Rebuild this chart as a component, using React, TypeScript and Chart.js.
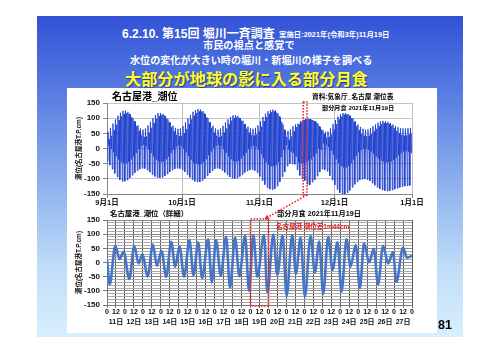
import React, { useEffect, useRef } from "react";
import { Chart, registerables } from "chart.js";

Chart.register(...registerables);

const FONT = '"Liberation Sans", "Noto Sans CJK JP", sans-serif';

// ---------- Overview chart (Sep 1 – Dec 31, 2021), daily tide extremes in cm ----------
const higherHigh = [
  55, 68, 82, 96, 108, 118, 124, 125, 121, 112, 100, 88, 76, 66, 62,
  66, 76, 88, 100, 110, 116, 117, 114, 106, 96, 85, 75, 68, 65, 66,
  74, 86, 99, 111, 121, 127, 130, 129, 123, 113, 100, 87, 75, 66, 62,
  66, 75, 86, 96, 104, 109, 110, 107, 100, 91, 81, 72, 67, 65, 68,
  76, 90, 104, 115, 123, 127, 128, 125, 116, 102, 80, 60, 58, 63, 73,
  79, 82, 90, 95, 98, 99, 97, 94, 90, 82, 70, 60, 55, 56,
  66, 80, 94, 105, 113, 117, 117, 114, 108, 99, 89, 79, 71, 65, 62,
  63, 67, 73, 79, 85, 89, 91, 90, 88, 84, 79, 74, 70, 67, 66, 66, 67, 68,
];
const lowerHigh = [
  30, 42, 60, 78, 94, 106, 114, 117, 114, 104, 90, 74, 58, 44, 38,
  40, 52, 68, 84, 98, 106, 110, 108, 99, 86, 70, 56, 45, 40, 42,
  50, 64, 80, 96, 108, 117, 122, 122, 115, 103, 86, 68, 52, 42, 38,
  42, 52, 66, 80, 92, 100, 103, 100, 92, 80, 65, 52, 44, 42, 46,
  56, 72, 90, 104, 114, 120, 122, 118, 106, 88, 62, 38, 29, 40, 56,
  71, 79, 88, 94, 97, 97, 95, 90, 86, 74, 62, 48, 36, 38,
  46, 62, 80, 95, 105, 111, 112, 108, 100, 88, 74, 60, 48, 42, 40,
  42, 48, 56, 65, 73, 80, 84, 84, 81, 75, 67, 58, 50, 45, 42, 43, 46, 50,
];
const lowerLow = [
  -42, -55, -68, -82, -94, -103, -108, -108, -104, -97, -88, -80, -73, -68, -65,
  -66, -71, -78, -86, -92, -96, -97, -95, -90, -84, -77, -71, -67, -65, -66,
  -70, -77, -86, -95, -103, -108, -110, -110, -106, -99, -90, -81, -73, -67, -65,
  -67, -72, -79, -87, -94, -98, -99, -97, -92, -86, -79, -74, -71, -70, -73,
  -80, -92, -106, -119, -129, -134, -136, -133, -124, -110, -93, -77, -58, -50, -50,
  -52, -70, -89, -100, -106, -118, -120, -111, -103, -91, -77, -68, -70, -75,
  -90, -104, -120, -135, -146, -150, -150, -146, -138, -128, -118, -110, -104, -101, -100,
  -102, -107, -114, -121, -128, -133, -137, -139, -140, -139, -137, -134, -131, -128, -126, -124, -123, -122,
];
const higherLow = [
  10, 0, -12, -25, -36, -44, -48, -48, -44, -36, -26, -14, -2, 8, 12,
  8, -2, -14, -26, -36, -42, -44, -42, -35, -26, -14, -3, 6, 10, 8,
  0, -12, -25, -37, -46, -50, -52, -50, -44, -34, -22, -10, 2, 10, 12,
  8, -2, -14, -26, -35, -41, -43, -40, -33, -24, -13, -2, 6, 10, 6,
  -4, -18, -32, -45, -54, -58, -58, -54, -44, -28, -5, 12, -3, -11, -15,
  -26, -46, -48, -50, -44, -40, -35, -26, -15, 0, -3, 17, 12, 5,
  -6, -20, -35, -48, -57, -62, -62, -58, -48, -36, -24, -12, -4, 0, 0,
  -4, -10, -18, -26, -33, -39, -43, -45, -45, -42, -37, -30, -22, -15, -10, -8, -10, -14,
];
const monthTicks = [0, 30, 61, 91, 122];
const monthLabels = ["9月1日", "10月1日", "11月1日", "12月1日", "1月1日"];
const overviewHighlight = [78.5, 80];

// ---------- Detail chart (Nov 11 0h – Nov 28 0h), hours from Nov 11 0:00 ----------
const detailHours = [
  0, 3.6, 11.1, 16.9, 22.2, 29.8, 36.5, 42.3, 47.6, 54.3, 61.4, 66.7, 73.0,
  79.2, 85.9, 91.2, 97.0, 103.2, 110.3, 115.7, 121.9, 127.3, 135.3, 140.2, 145.9,
  152.2, 159.3, 164.6, 171.3, 177.1, 184.7, 190.0, 195.8, 201.1, 210.0, 214.5, 222.5,
  227.8, 234.9, 240.3, 247.8, 252.7, 259.0, 264.7, 272.3, 278.1, 283.9, 289.2, 295.9,
  301.7, 308.4, 313.7, 320.4, 325.7, 332.8, 338.2, 343.9, 350.6, 356.9, 362.6, 369.3,
  376.0, 382.6, 387.1, 396.0, 401.3, 408,
];
const detailLevels = [
  9, -77, 59, 12, 38, -58, 58, -3, 29, -50, 63, -11, 40,
  -50, 73, -15, 56, -50, 79, -45, 71, -55, 82, -70, 79,
  -46, 91, -89, 88, -48, 94, -100, 97, -50, 97, -106, 99,
  -44, 95, -118, 97, -40, 88, -120, 94, -35, 74, -111, 91,
  -26, 71, -103, 82, -15, 62, -91, 68, 0, 48, -77, 59,
  -3, 36, -68, 53, 17, 23,
];
const hourLabels = ["0", "12"];
const detailDays = [
  "11日", "12日", "13日", "14日", "15日", "16日", "17日", "18日", "19日",
  "20日", "21日", "22日", "23日", "24日", "25日", "26日", "27日",
];
const detailHighlight = [192, 216];

const yMin = -150;
const yMax = 150;

const highlightPlugin: any = {
  id: "highlight",
  afterDatasetsDraw(chart: any, _args: any, opts: any) {
    if (!opts || !opts.range) return;
    const { ctx, chartArea, scales } = chart;
    const x1 = scales.x.getPixelForValue(opts.range[0]);
    const x2 = scales.x.getPixelForValue(opts.range[1]);
    ctx.save();
    ctx.strokeStyle = "#e3262b";
    ctx.lineWidth = 1.6;
    ctx.setLineDash([1.6, 1.4]);
    ctx.strokeRect(x1, chartArea.top - 1, x2 - x1, chartArea.bottom - chartArea.top + 2);
    ctx.restore();
  },
};

const tickFont = { family: FONT, size: 8, weight: "bold" as const };
const axisTitle = (size: number) => ({
  display: true,
  text: "潮位(名古屋港T.P.cm)",
  color: "#111",
  font: { family: FONT, size, weight: "bold" as const },
  padding: { top: 8, bottom: 0 },
});

function Txt(props: { x: number; cy: number; size: number; color?: string; weight?: string; text: string; shadow?: string }) {
  const { x, cy, size, color = "#000", weight = "bold", text, shadow } = props;
  return (
    <div
      style={{
        position: "absolute",
        left: x,
        top: cy - size / 2,
        fontSize: size,
        lineHeight: 1,
        height: size,
        fontFamily: FONT,
        fontWeight: weight as any,
        color,
        whiteSpace: "nowrap",
        textShadow: shadow,
      }}
    >
      {text}
    </div>
  );
}

export default function App() {
  const rootRef = useRef<HTMLDivElement>(null);
  const topRef = useRef<HTMLCanvasElement>(null);
  const botRef = useRef<HTMLCanvasElement>(null);
  const overlayRef = useRef<HTMLCanvasElement>(null);

  useEffect(() => {
    const overviewPoints: { x: number; y: number }[] = [];
    for (let d = 0; d < higherHigh.length; d++) {
      overviewPoints.push({ x: d + 0.12, y: lowerLow[d] });
      overviewPoints.push({ x: d + 0.38, y: higherHigh[d] });
      overviewPoints.push({ x: d + 0.62, y: higherLow[d] });
      overviewPoints.push({ x: d + 0.88, y: lowerHigh[d] });
    }
    const detailPoints = detailHours.map((h, i) => ({ x: h, y: detailLevels[i] }));

    const topChart = new Chart(topRef.current as HTMLCanvasElement, {
      type: "line",
      data: {
        datasets: [
          {
            data: overviewPoints,
            borderColor: "#2142cf",
            borderWidth: 0.9,
            pointRadius: 0,
            fill: false,
            tension: 0,
          },
        ],
      },
      options: {
        responsive: false,
        animation: false,
        events: [],
        layout: { padding: { top: 15, right: 25, left: 0, bottom: 0 } },
        plugins: {
          legend: { display: false },
          tooltip: { enabled: false },
          highlight: { range: overviewHighlight },
        } as any,
        scales: {
          x: {
            type: "linear",
            min: monthTicks[0],
            max: monthTicks[monthTicks.length - 1],
            afterFit: (s: any) => {
              s.height = 16;
            },
            afterBuildTicks: (s: any) => {
              s.ticks = monthTicks.map((v) => ({ value: v }));
            },
            ticks: {
              autoSkip: false,
              maxRotation: 0,
              padding: 0.5,
              color: "#111",
              font: { family: FONT, size: 7.5, weight: "bold" },
              callback: (v: any) => monthLabels[monthTicks.indexOf(Number(v))] ?? "",
            },
            grid: { color: "#bdbdbd", tickLength: 4, tickColor: "#888" },
            border: { color: "#888" },
          },
          y: {
            min: yMin,
            max: yMax,
            afterFit: (s: any) => {
              s.width = 40;
            },
            ticks: { stepSize: 50, autoSkip: false, padding: 3, color: "#111", font: tickFont },
            grid: { color: "#c4c4c4", tickLength: 4, tickColor: "#888" },
            border: { color: "#888" },
            title: axisTitle(6.5) as any,
          },
        },
      } as any,
      plugins: [highlightPlugin],
    });

    const botChart = new Chart(botRef.current as HTMLCanvasElement, {
      type: "line",
      data: {
        datasets: [
          {
            data: detailPoints,
            borderColor: "#4674c6",
            borderWidth: 2.6,
            pointRadius: 0,
            fill: false,
            cubicInterpolationMode: "monotone",
          },
        ],
      },
      options: {
        responsive: false,
        animation: false,
        events: [],
        layout: { padding: { top: 12, right: 25, left: 0, bottom: 0 } },
        plugins: {
          legend: { display: false },
          tooltip: { enabled: false },
          highlight: { range: detailHighlight },
        } as any,
        scales: {
          x: {
            type: "linear",
            min: 0,
            max: detailDays.length * 24,
            afterFit: (s: any) => {
              s.height = 28;
            },
            ticks: {
              stepSize: 12,
              autoSkip: false,
              maxRotation: 0,
              padding: 0,
              color: "#111",
              font: { family: FONT, size: 7, weight: "bold", lineHeight: 1.3 },
              callback: (v: any) => {
                const h = Number(v);
                if (h % 24 === 0) return hourLabels[0];
                return [hourLabels[1], detailDays[Math.floor(h / 24)]];
              },
            },
            grid: { color: "#5a5a5a", tickLength: 3, tickColor: "#777" },
            border: { color: "#777" },
          },
          y: {
            min: yMin,
            max: yMax,
            afterFit: (s: any) => {
              s.width = 40;
            },
            ticks: {
              stepSize: 10,
              autoSkip: false,
              padding: 3,
              color: "#111",
              font: tickFont,
              callback: (v: any) => (Number(v) % 50 === 0 ? String(v) : ""),
            },
            grid: {
              color: (c: any) => (c.tick && c.tick.value % 50 === 0 ? "#8a8a8a" : "#a8a8a8"),
              tickLength: 4,
              tickColor: (c: any) => (c.tick && c.tick.value % 50 === 0 ? "#777" : "rgba(0,0,0,0)"),
            },
            border: { color: "#777" },
            title: axisTitle(6.5) as any,
          },
        },
      } as any,
      plugins: [highlightPlugin],
    });

    // connector arrow between the two highlighted periods
    const ov = overlayRef.current as HTMLCanvasElement;
    const root = rootRef.current as HTMLDivElement;
    const ctx = ov.getContext("2d");
    if (ctx && root) {
      const rr = root.getBoundingClientRect();
      const tr = (topRef.current as HTMLCanvasElement).getBoundingClientRect();
      const br = (botRef.current as HTMLCanvasElement).getBoundingClientRect();
      const x1 = tr.left - rr.left + topChart.scales.x.getPixelForValue(overviewHighlight[1]);
      const y1 = tr.top - rr.top + topChart.chartArea.bottom + 1;
      const x2 = br.left - rr.left + botChart.scales.x.getPixelForValue(detailHighlight[1]) - 4;
      const y2 = br.top - rr.top + botChart.chartArea.top - 1;
      ctx.clearRect(0, 0, ov.width, ov.height);
      ctx.save();
      ctx.strokeStyle = "#e3262b";
      ctx.fillStyle = "#e3262b";
      ctx.lineWidth = 1.6;
      ctx.setLineDash([1.6, 1.6]);
      const ang = Math.atan2(y2 - y1, x2 - x1);
      const ax = x2 - Math.cos(ang) * 4;
      const ay = y2 - Math.sin(ang) * 4;
      ctx.beginPath();
      ctx.moveTo(x1, y1);
      ctx.lineTo(ax, ay);
      ctx.stroke();
      ctx.setLineDash([]);
      ctx.beginPath();
      ctx.moveTo(x2, y2);
      ctx.lineTo(x2 - Math.cos(ang - 0.5) * 5, y2 - Math.sin(ang - 0.5) * 5);
      ctx.lineTo(x2 - Math.cos(ang + 0.5) * 5, y2 - Math.sin(ang + 0.5) * 5);
      ctx.closePath();
      ctx.fill();
      ctx.restore();
    }

    return () => {
      topChart.destroy();
      botChart.destroy();
    };
  }, []);

  return (
    <div
      ref={rootRef}
      style={{ position: "absolute", left: 0, top: 0, width: 500, height: 354, overflow: "hidden", background: "#ffffff" }}
    >
      <div
        style={{
          position: "absolute",
          left: 37,
          top: 16,
          width: 426,
          height: 321,
          background: "linear-gradient(to bottom, #3152d6 0%, #5a7ee2 25%, #93b5ef 55%, #c2dff8 80%, #d8effd 100%)",
        }}
      />
      <Txt x={122} cy={34} size={12} color="#ffffff" text="6.2.10. 第15回 堀川一斉調査" />
      <Txt x={279} cy={35} size={7.4} color="#ffffff" text="実施日:2021年(令和3年)11月19日" />
      <Txt x={203} cy={46} size={10.2} color="#ffffff" text="市民の視点と感覚で" />
      <Txt x={130} cy={61} size={10.1} color="#ffffff" text="水位の変化が大きい時の堀川・新堀川の様子を調べる" />
      <Txt
        x={125}
        cy={79.5}
        size={16.2}
        color="#ffff2a"
        shadow="1px 1px 1px rgba(0,0,60,0.55)"
        text="大部分が地球の影に入る部分月食"
      />
      <div style={{ position: "absolute", left: 67, top: 88, width: 370, height: 245, background: "#ffffff" }} />
      <canvas ref={topRef} width={370} height={122} style={{ position: "absolute", left: 67, top: 88 }} />
      <canvas ref={botRef} width={370} height={125} style={{ position: "absolute", left: 67, top: 208 }} />
      <Txt x={112} cy={97} size={10} text="名古屋港_潮位" />
      <Txt x={312} cy={97} size={6.7} text="資料:気象庁_名古屋 潮位表" />
      <Txt x={322} cy={108.5} size={6.2} text="部分月食 2021年11月19日" />
      <Txt x={110} cy={214} size={7.4} text="名古屋港_潮位（詳細）" />
      <Txt x={277} cy={214} size={7.2} text="部分月食 2021年11月19日" />
      <Txt x={276} cy={227} size={6.5} color="#e3262b" text="名古屋港 潮位差1m44cm" />
      <Txt x={438} cy={325} size={12.5} text="81" />
      <canvas
        ref={overlayRef}
        width={500}
        height={354}
        style={{ position: "absolute", left: 0, top: 0, pointerEvents: "none" }}
      />
    </div>
  );
}
